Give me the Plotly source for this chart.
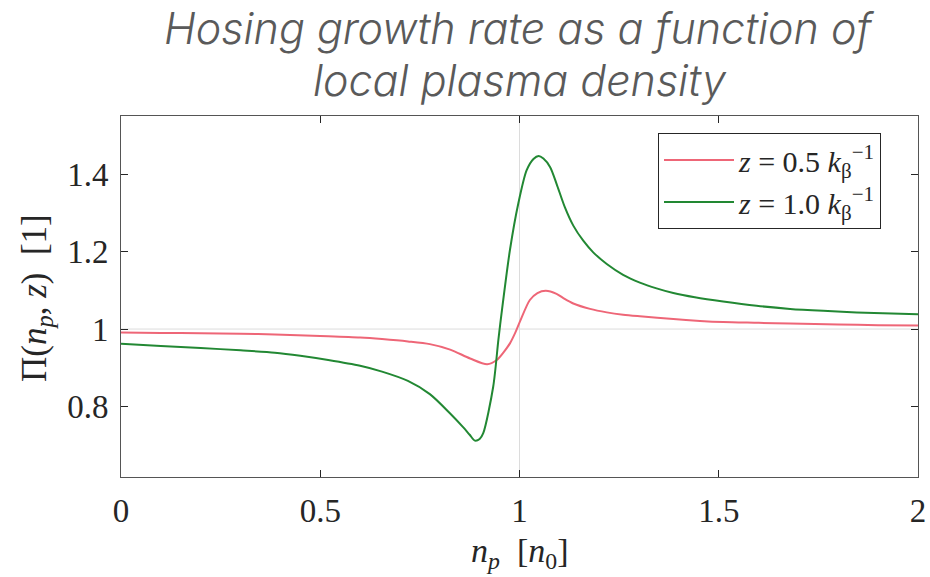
import plotly.graph_objects as go

# ---- data ----
x_red = [0, 0.1, 0.2, 0.3, 0.386, 0.5, 0.6, 0.655, 0.72, 0.775, 0.826, 0.876, 0.919,
         0.943, 0.96, 0.976, 0.99, 1.001, 1.026, 1.045, 1.066, 1.093, 1.11, 1.135, 1.177,
         1.219, 1.26, 1.302, 1.386, 1.453, 1.511, 1.6, 1.679, 1.8, 1.9, 2.0]
y_red = [0.991, 0.990, 0.989, 0.988, 0.986, 0.982, 0.978, 0.974, 0.968, 0.961, 0.947, 0.924, 0.909,
         0.920, 0.940, 0.963, 0.992, 1.019, 1.075, 1.093, 1.099, 1.091, 1.080, 1.066, 1.052,
         1.043, 1.037, 1.033, 1.026, 1.021, 1.018, 1.016, 1.014, 1.012, 1.010, 1.009]

x_green = [0, 0.1, 0.2, 0.3, 0.386, 0.45, 0.52, 0.6, 0.655, 0.72, 0.775, 0.826, 0.859, 0.875,
           0.888, 0.9, 0.909, 0.934, 0.947, 0.955, 0.976, 0.997, 1.018, 1.035, 1.048, 1.06,
           1.077, 1.093, 1.114, 1.135, 1.16, 1.185, 1.219, 1.26, 1.302, 1.344, 1.386, 1.44,
           1.511, 1.595, 1.679, 1.762, 1.846, 2.0]
y_green = [0.962, 0.956, 0.951, 0.945, 0.939, 0.931, 0.920, 0.905, 0.890, 0.866, 0.832, 0.782, 0.746, 0.727,
           0.712, 0.716, 0.731, 0.851, 0.972, 1.041, 1.204, 1.324, 1.410, 1.439, 1.447, 1.440,
           1.418, 1.375, 1.314, 1.267, 1.228, 1.198, 1.168, 1.140, 1.120, 1.105, 1.093, 1.082,
           1.071, 1.060, 1.052, 1.047, 1.043, 1.038]

series_names = ["<i>z</i> = 0.5 <i>k</i><sub>β</sub><sup>−1</sup>",
                "<i>z</i> = 1.0 <i>k</i><sub>β</sub><sup>−1</sup>"]
series_colors = ["#EE6677", "#228833"]

x_ticks = [0, 0.5, 1, 1.5, 2]
x_tick_text = ["0", "0.5", "1", "1.5", "2"]
y_ticks = [0.8, 1.0, 1.2, 1.4]
y_tick_text = ["0.8", "1", "1.2", "1.4"]
ref_x = 1.0
ref_y = 1.0

title_lines = ["Hosing growth rate as a function of", "local plasma density"]

SERIF = "Liberation Serif, DejaVu Serif, serif"
INK = "#262626"

fig = go.Figure()
fig.add_hline(y=ref_y, line=dict(color="#dcdcdc", width=1), layer="below")
fig.add_vline(x=ref_x, line=dict(color="#dcdcdc", width=1), layer="below")

for xs, ys, nm, col in [(x_red, y_red, series_names[0], series_colors[0]),
                        (x_green, y_green, series_names[1], series_colors[1])]:
    fig.add_trace(go.Scatter(x=xs, y=ys, mode="lines", name=nm,
                             line=dict(color=col, width=2, shape="spline", smoothing=0.8)))

axis_common = dict(showgrid=False, zeroline=False, showline=True, linecolor="#555555",
                   linewidth=1, mirror="ticks", ticks="inside", ticklen=7, tickwidth=1,
                   tickcolor=INK, automargin=False,
                   tickfont=dict(family=SERIF, size=33, color=INK))

fig.update_xaxes(range=[0, 2], tickvals=x_ticks, ticktext=x_tick_text, ticklabelstandoff=4,
                 **axis_common)
fig.update_yaxes(range=[0.618, 1.55], tickvals=y_ticks, ticktext=y_tick_text, ticklabelstandoff=5,
                 **axis_common)

title_font = dict(family="Inter", size=43, color="#5a5a5a", weight=300, style="italic")
annotations = [
    dict(text=title_lines[0], x=0.5, xref="paper", y=(477 - 27.5) / 361, yref="paper",
         showarrow=False, xanchor="center", yanchor="middle", font=title_font),
    dict(text=title_lines[1], x=0.5, xref="paper", y=(477 - 80) / 361, yref="paper",
         showarrow=False, xanchor="center", yanchor="middle", font=title_font),
    dict(text="<i>n</i><sub><i>p</i></sub>  [<i>n</i><sub>0</sub>]", x=0.5, xref="paper",
         y=(477 - 553) / 361, yref="paper", showarrow=False, xanchor="center", yanchor="middle",
         font=dict(family=SERIF, size=34, color=INK)),
    dict(text="Π(<i>n</i><sub><i>p</i></sub>, <i>z</i>)  [1]", x=(36 - 121) / 797, xref="paper",
         y=(477 - 298) / 361, yref="paper", showarrow=False, xanchor="center", yanchor="middle",
         textangle=-90, font=dict(family=SERIF, size=35, color=INK)),
]

fig.update_layout(
    width=930, height=577,
    margin=dict(l=121, r=12, t=116, b=100),
    paper_bgcolor="white", plot_bgcolor="white",
    showlegend=True,
    legend=dict(x=(658 - 121) / 797, y=(477 - 133) / 361, xanchor="left", yanchor="top",
                bgcolor="white", bordercolor=INK, borderwidth=1,
                font=dict(family=SERIF, size=30, color=INK),
                itemwidth=70, tracegroupgap=0),
    annotations=annotations,
)

fig.write_html("out.html")
